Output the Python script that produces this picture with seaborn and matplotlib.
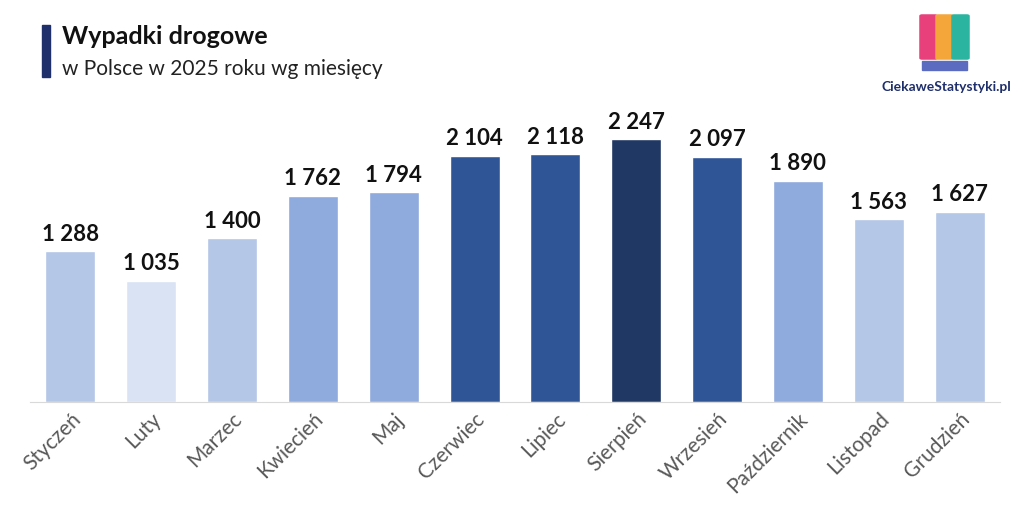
import matplotlib
matplotlib.use('Agg')
import matplotlib.pyplot as plt
import matplotlib.patches as mpatches
import seaborn as sns
import pandas as pd

sns.set_style('white')
plt.rcParams['font.family'] = ['Lato', 'DejaVu Sans']

months = ['Styczeń', 'Luty', 'Marzec', 'Kwiecień', 'Maj', 'Czerwiec', 'Lipiec',
          'Sierpień', 'Wrzesień', 'Październik', 'Listopad', 'Grudzień']
accidents = [1288, 1035, 1400, 1762, 1794, 2104, 2118, 2247, 2097, 1890, 1563, 1627]
colors = ['#b4c7e7', '#dae3f3', '#b4c7e7', '#8faadc', '#8faadc', '#2f5597', '#2f5597',
          '#203864', '#2f5597', '#8faadc', '#b4c7e7', '#b4c7e7']

df = pd.DataFrame({'month': months, 'value': accidents})

W, H = 1024, 522
fig = plt.figure(figsize=(W / 100, H / 100), dpi=100)
ax = fig.add_axes([30 / W, 1 - 402 / H, 970 / W, 292.6 / H])
sns.barplot(data=df, x='month', y='value', hue='month', palette=colors,
            legend=False, width=0.62, saturation=1, ax=ax)
ax.set_ylim(0, 2500)
ax.set_xlim(-0.5, 11.5)
ax.set_xlabel('')
ax.set_ylabel('')
ax.set_yticks([])
for s in ['top', 'right', 'left']:
    ax.spines[s].set_visible(False)
ax.spines['bottom'].set_color('#d9d9d9')
ax.tick_params(axis='x', length=0, pad=5)
ax.set_xticks(range(len(months)))
ax.set_xticklabels(months, rotation=45, ha='right', rotation_mode='anchor',
                   fontsize=15, color='#595959')
for i, v in enumerate(accidents):
    ax.text(i, v + 55, f'{v:,}'.replace(',', ' '), ha='center', va='bottom',
            fontsize=16, fontweight='bold', color='#111111')

# title block
fig.patches.append(mpatches.Rectangle((42 / W, 1 - 77 / H), 8 / W, 52 / H,
                                      transform=fig.transFigure, color='#1f2f6b'))
fig.text(62 / W, 1 - 36 / H, 'Wypadki drogowe', fontsize=18, fontweight='bold',
         va='center', color='#111111')
fig.text(62 / W, 1 - 69 / H, 'w Polsce w 2025 roku wg miesięcy', fontsize=15,
         va='center', color='#222222')

# logo
logo_cols = ['#e8407a', '#f4a63a', '#2bb5a0']
for k, c in enumerate(logo_cols):
    fig.patches.append(mpatches.FancyBboxPatch(((922 + k * 16) / W, 1 - 58 / H), 13 / W, 42 / H,
                                               boxstyle='round,pad=0.002',
                                               transform=fig.transFigure, color=c))
fig.patches.append(mpatches.Rectangle((922 / W, 1 - 70 / H), 45 / W, 9 / H,
                                      transform=fig.transFigure, color='#5b6bbf'))
fig.text(946 / W, 1 - 87 / H, 'CiekaweStatystyki.pl', fontsize=10, fontweight='bold',
         ha='center', va='center', color='#1f2f6b')

fig.savefig('out.png', dpi=100)
